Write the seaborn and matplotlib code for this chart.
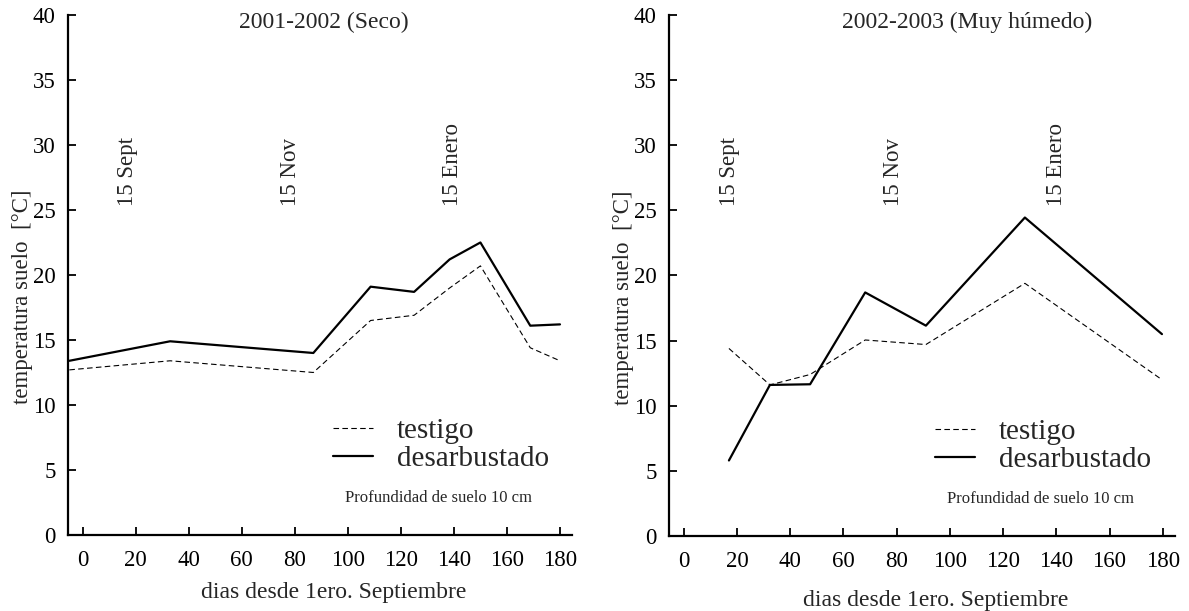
import matplotlib
matplotlib.use("Agg")
import matplotlib.pyplot as plt
import seaborn as sns
import pandas as pd

# ---- data ----
days_seco = [-5, 33, 87, 108.6, 125, 138.4, 150, 168.8, 180]
testigo_seco = [12.7, 13.4, 12.5, 16.5, 16.9, 19.0, 20.7, 14.4, 13.4]
desarb_seco = [13.4, 14.9, 14.0, 19.1, 18.7, 21.2, 22.5, 16.1, 16.2]

days_humedo = [17, 32.4, 47.5, 68.2, 91, 128.2, 179.7]
testigo_humedo = [14.4, 11.6, 12.4, 15.05, 14.7, 19.4, 12.0]
desarb_humedo = [5.8, 11.6, 11.65, 18.7, 16.15, 24.45, 15.5]

series_names = ["testigo", "desarbustado"]
titles = ["2001-2002 (Seco)", "2002-2003 (Muy húmedo)"]
mark_labels = ["15 Sept", "15 Nov", "15 Enero"]
mark_days_seco = [16.8, 78.3, 139.5]
mark_days_humedo = [17.4, 79.0, 140.0]
xticks = list(range(0, 181, 20))
yticks = list(range(0, 41, 5))

sns.set_style("ticks")
plt.rcParams["font.family"] = ["Liberation Serif", "DejaVu Serif"]


def make_df(days, t, d):
    return pd.DataFrame({
        "dia": list(days) + list(days),
        "temp": list(t) + list(d),
        "serie": [series_names[0]] * len(days) + [series_names[1]] * len(days),
    })


dfs = [make_df(days_seco, testigo_seco, desarb_seco),
       make_df(days_humedo, testigo_humedo, desarb_humedo)]
marks = [mark_days_seco, mark_days_humedo]

fig = plt.figure(figsize=(11.89, 6.11), dpi=100)
ax1 = fig.add_axes([0.0572, 0.1244, 0.4238, 0.8511])
ax2 = fig.add_axes([0.5627, 0.1227, 0.4253, 0.8528])
axes = [ax1, ax2]
title_x = [0.508, 0.59]
xlabel_pad = [8, 12.5]

for i, ax in enumerate(axes):
    sns.lineplot(data=dfs[i], x="dia", y="temp", hue="serie", style="serie",
                 size="serie", sizes={"testigo": 0.8, "desarbustado": 1.6},
                 palette={"testigo": "black", "desarbustado": "black"},
                 dashes={"testigo": (5, 3), "desarbustado": ""},
                 hue_order=series_names, sort=False, ax=ax, legend=True)
    ax.set_xlim(-5.5, 184.5)
    ax.set_ylim(0, 40)
    ax.set_xticks(xticks)
    ax.set_yticks(yticks)
    ax.tick_params(axis="both", direction="in", length=6, width=1.3,
                   labelsize=16.5, colors="black")
    ax.tick_params(axis="y", pad=9)
    ax.tick_params(axis="x", pad=11)
    for s in ["top", "right"]:
        ax.spines[s].set_visible(False)
    for s in ["left", "bottom"]:
        ax.spines[s].set_linewidth(1.6)
        ax.spines[s].set_color("black")
    ax.set_xlabel("dias desde 1ero. Septiembre", fontsize=17, labelpad=xlabel_pad[i])
    ax.xaxis.label.set_x(0.528)
    ax.set_ylabel("temperatura suelo  [°C]", fontsize=16.5, labelpad=0)
    ax.yaxis.label.set_y(0.458)
    ax.text(title_x[i], 0.985, titles[i], transform=ax.transAxes,
            ha="center", va="center", fontsize=17)
    for lab, dx in zip(mark_labels, marks[i]):
        ax.text(dx, 25.3, lab, rotation=90, ha="center", va="bottom", fontsize=16.5)
    handles, labels = ax.get_legend_handles_labels()
    h = [hh for hh, ll in zip(handles, labels) if ll in series_names]
    l = [ll for ll in labels if ll in series_names]
    ax.legend(h, l, loc="center left", bbox_to_anchor=(0.525, 0.1735),
              frameon=False, fontsize=21, handlelength=1.4, handletextpad=0.8,
              labelspacing=0.05, borderpad=0, borderaxespad=0)
    ax.text(0.735, 0.071, "Profundidad de suelo 10 cm", transform=ax.transAxes,
            ha="center", va="center", fontsize=12)

fig.savefig("out.png", dpi=100)
